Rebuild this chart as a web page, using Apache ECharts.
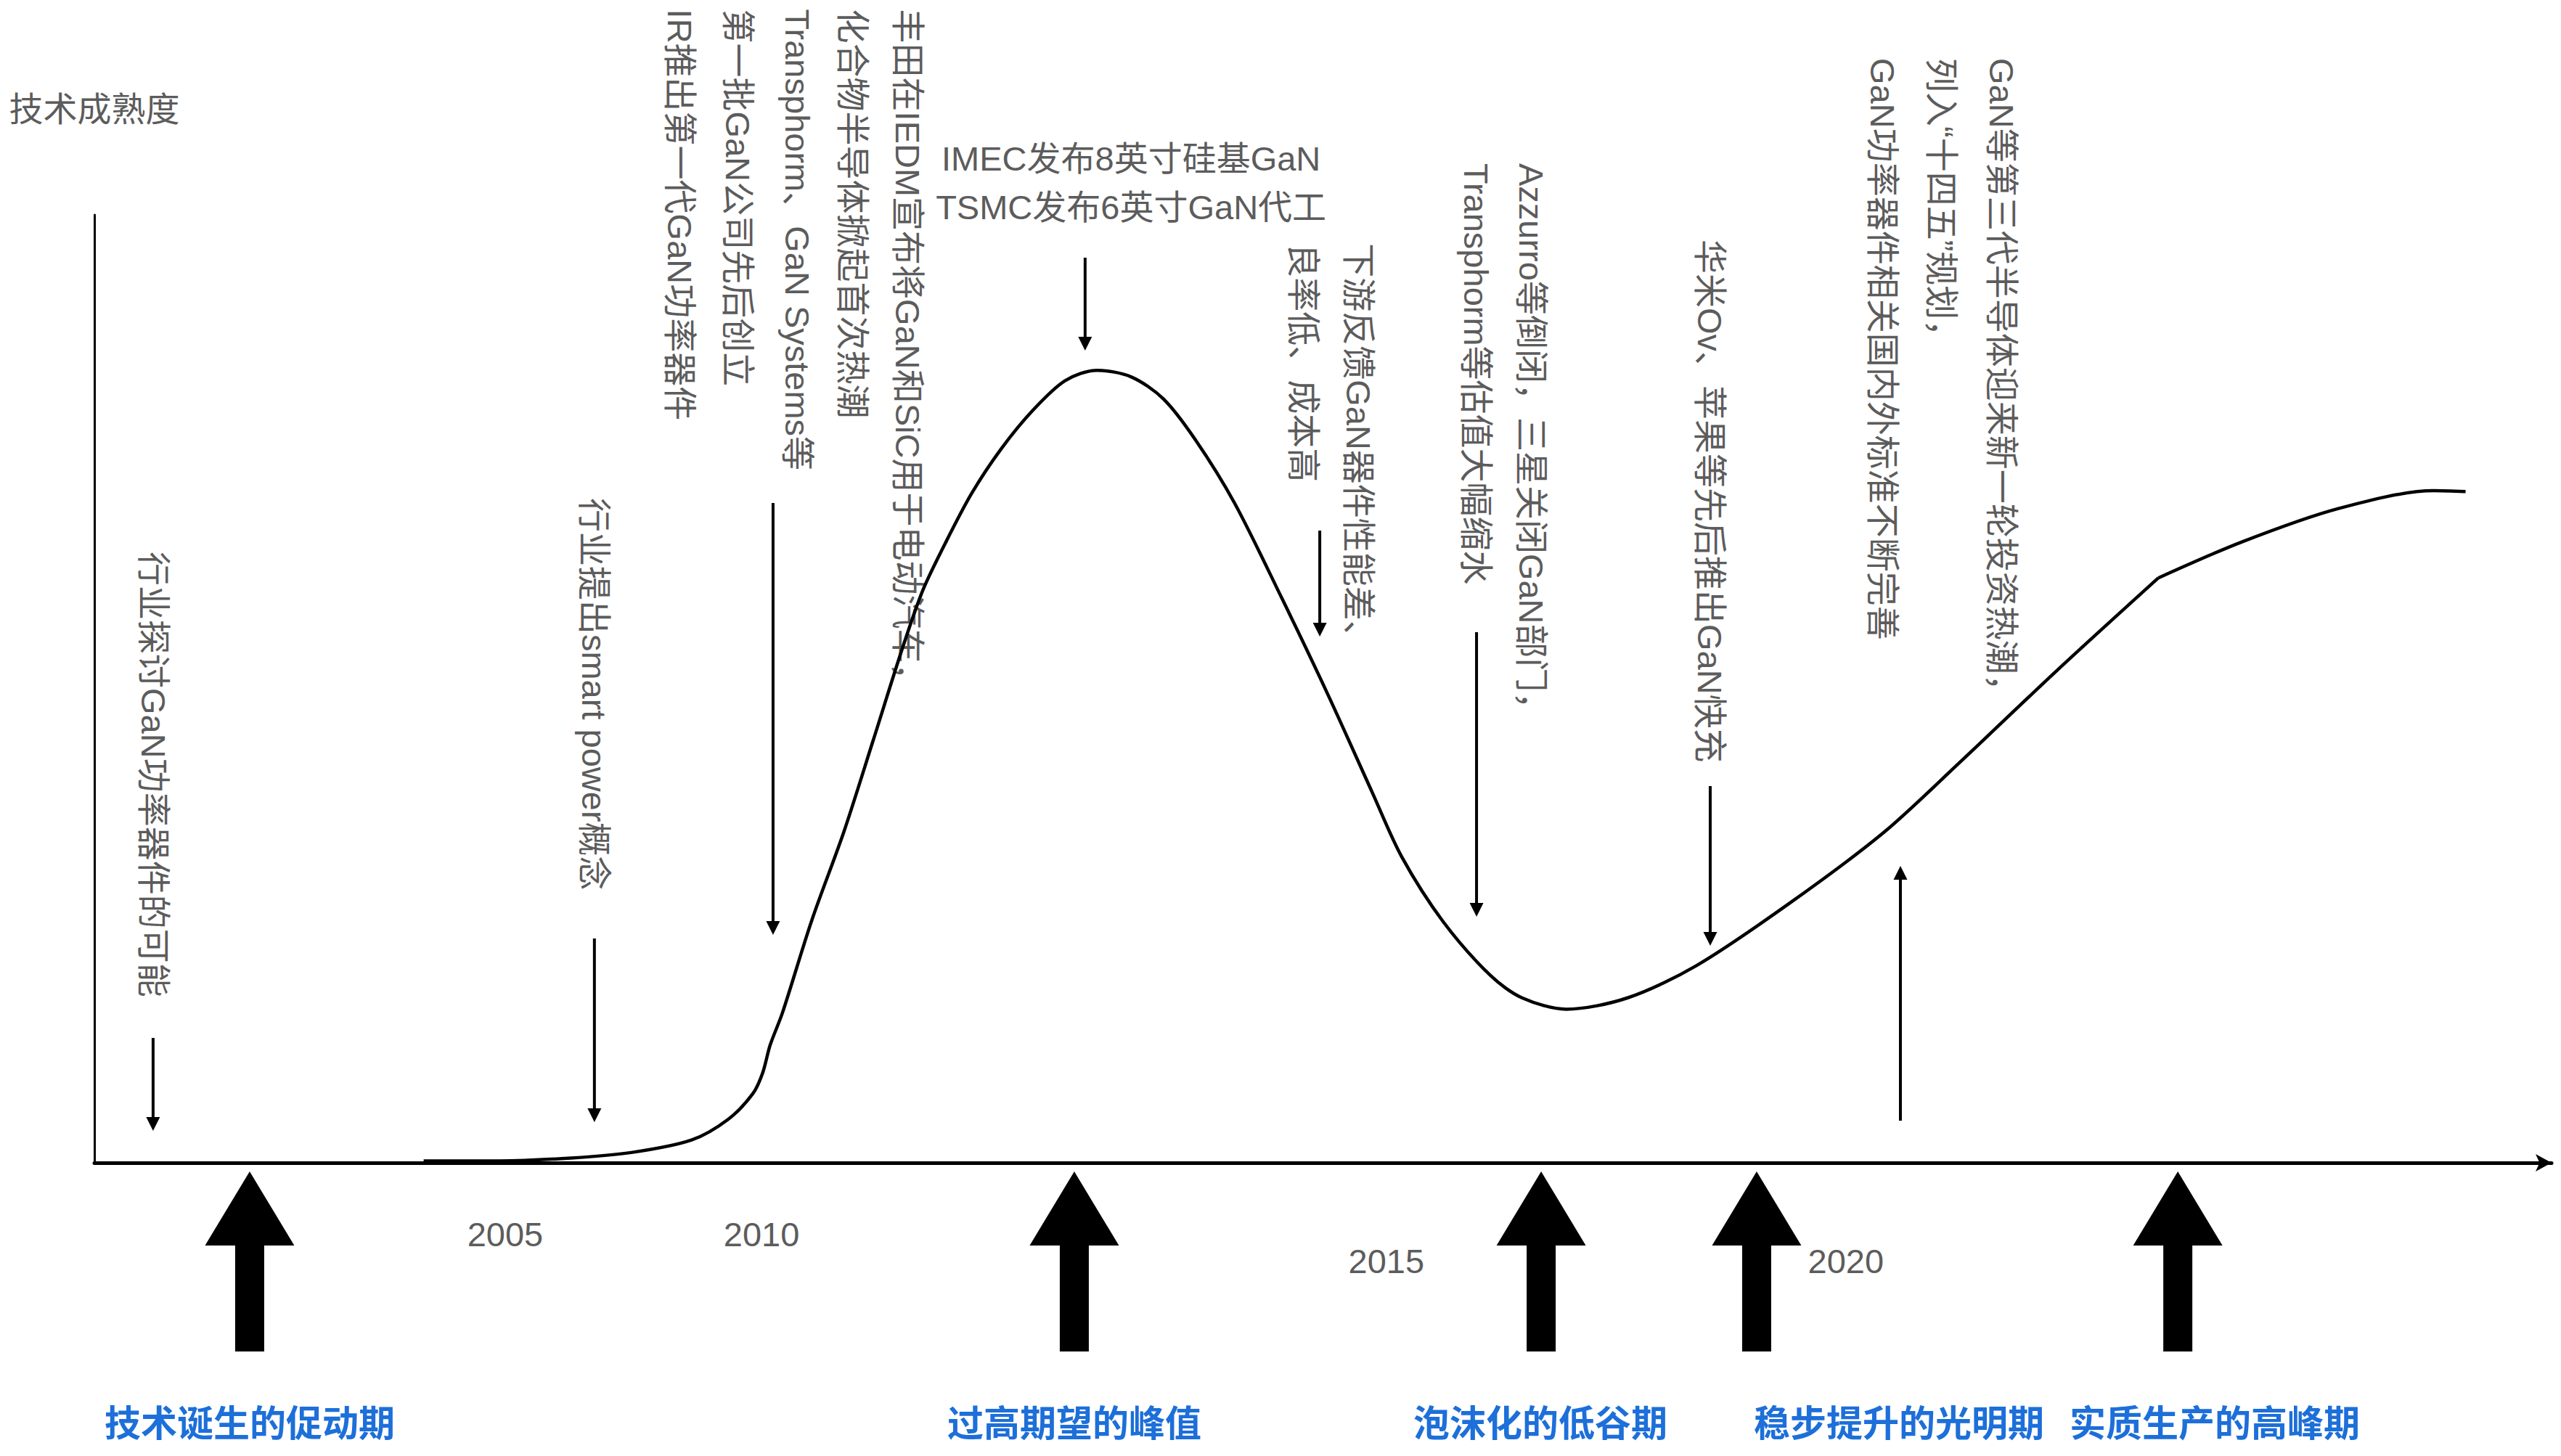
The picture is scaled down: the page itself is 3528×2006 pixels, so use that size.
<!DOCTYPE html>
<html><head><meta charset="utf-8">
<script src="https://cdn.jsdelivr.net/npm/echarts@6/dist/echarts.min.js"></script>
<style>html,body{margin:0;padding:0;background:#fff}#c{width:3528px;height:2006px}</style>
</head><body><div id="c"></div>
<script>
// ---- hype curve (x: time progress 0-100, y: maturity 0-100) ----
// main curve: trigger -> peak -> trough -> slope of enlightenment
const curveX = [13.4, 16.5, 19.4, 21.9, 24.3, 25.8, 26.8, 27.2, 27.5, 28.0, 29.2, 30.5, 31.7, 32.9, 33.7, 34.6, 35.7, 36.9, 38.2, 39.5, 40.8, 42.2, 43.5, 44.8, 46.4, 48.3, 50.2, 52.0, 53.2, 54.9, 56.8, 58.1, 59.9, 62.4, 65.2, 69.0, 72.8, 75.9, 79.9, 84.0];
const curveY = [0.2, 0.2, 0.5, 1.1, 2.4, 4.6, 7.3, 9.5, 12.4, 15.8, 25.6, 34.9, 44.6, 54.4, 60.3, 65.2, 70.6, 75.3, 79.4, 82.5, 83.6, 82.9, 80.6, 76.3, 69.6, 59.7, 49.4, 39.1, 32.3, 25.4, 19.8, 17.4, 16.2, 17.4, 20.8, 27.4, 34.8, 42.2, 52.0, 61.7];
// plateau of productivity
const plateauX = [84.0, 87.4, 91.3, 95.2, 96.5];
const plateauY = [61.7, 65.5, 69.0, 70.9, 70.8];

// ---- vertical event notes ----
const noteTexts = [
  '行业探讨GaN功率器件的可能',
  '行业提出smart power概念',
  'IR推出第一代GaN功率器件',
  '第一批GaN公司先后创立',
  'Transphorm、GaN Systems等',
  '化合物半导体掀起首次热潮',
  '丰田在IEDM宣布将GaN和SiC用于电动汽车，',
  '良率低、成本高',
  '下游反馈GaN器件性能差、',
  'Transphorm等估值大幅缩水',
  'Azzurro等倒闭，三星关闭GaN部门，',
  '华米Ov、苹果等先后推出GaN快充',
  'GaN功率器件相关国内外标准不断完善',
  '列入“十四五”规划，',
  'GaN等第三代半导体迎来新一轮投资热潮，'
];
const noteX = [2.42, 20.33, 23.84, 26.20, 28.60, 30.87, 33.09, 49.19, 51.46, 56.22, 58.49, 65.76, 72.79, 75.18, 77.61];
const noteY = [64.47, 70.14, 121.7, 121.7, 121.7, 121.7, 121.7, 97.0, 97.0, 105.44, 105.44, 97.4, 116.54, 116.54, 116.54];

// ---- horizontal notes ----
const hNoteTexts = ['IMEC发布8英寸硅基GaN', 'TSMC发布6英寸GaN代工'];
const hNoteX = [42.19, 42.19];
const hNoteY = [105.97, 100.77];

// ---- pointer arrows (x, from y, to y) ----
const pointerX = [2.39, 20.35, 27.62, 40.32, 49.87, 56.25, 65.76, 73.50];
const pointerFrom = [13.17, 23.66, 69.6, 95.48, 66.69, 55.97, 39.74, 4.44];
const pointerTo = [3.37, 4.29, 24.04, 85.68, 55.51, 25.96, 22.89, 31.32];

// ---- year labels ----
const yearLabels = ['2005', '2010', '2015', '2020'];
const yearX = [16.72, 27.15, 52.58, 71.28];
const yearY = [-7.58, -7.58, -10.4, -10.4];

// ---- stages ----
const stageNames = ['技术诞生的促动期', '过高期望的峰值', '泡沫化的低谷期', '稳步提升的光明期', '实质生产的高峰期'];
const stageArrowX = [6.32, 39.88, 58.88, 67.65, 84.79];
const stageArrowTop = [-0.92, -0.92, -0.92, -0.92, -0.92];
const stageArrowBottom = [-19.91, -19.91, -19.91, -19.91, -19.91];
const stageLabelX = [6.32, 39.88, 58.85, 73.44, 86.29];
const stageLabelY = [-27.18, -27.18, -27.18, -27.18, -27.18];

const GRAY = '#5c5c5c';
const BLUE = '#1d6fd9';
const FONT = '"Liberation Sans", "Noto Sans CJK SC", sans-serif';

function textRenderer(texts, opts) {
  return function (params, api) {
    const p = api.coord([api.value(0), api.value(1)]);
    return {
      type: 'text',
      x: p[0], y: p[1],
      rotation: opts.rotate ? -Math.PI / 2 : 0,
      style: {
        text: texts[params.dataIndex],
        fill: opts.color, textFill: opts.color,
        font: opts.font, textFont: opts.font,
        align: opts.align, textAlign: opts.align,
        verticalAlign: 'middle', textVerticalAlign: 'middle'
      }
    };
  };
}

const curveStyle = { color: '#000', width: 4.5 };

const chart = echarts.init(document.getElementById('c'), null, { renderer: 'svg', width: 3528, height: 2006 });
chart.setOption({
  animation: false,
  backgroundColor: '#ffffff',
  grid: { left: 130, right: 13, top: 296, bottom: 404, containLabel: false, outerBoundsMode: 'none' },
  xAxis: {
    type: 'value', min: 0, max: 100,
    axisLine: { show: true, symbol: ['none', 'arrow'], symbolSize: [18, 22], lineStyle: { color: '#000', width: 5 } },
    axisTick: { show: false }, axisLabel: { show: false }, splitLine: { show: false }
  },
  yAxis: {
    type: 'value', min: 0, max: 100,
    name: '技术成熟度', nameLocation: 'end', nameGap: 146,
    nameTextStyle: { color: GRAY, fontSize: 47, fontFamily: FONT, align: 'center', verticalAlign: 'middle' },
    axisLine: { show: true, lineStyle: { color: '#000', width: 3 } },
    axisTick: { show: false }, axisLabel: { show: false }, splitLine: { show: false }
  },
  series: [
    {
      type: 'line', smooth: 0.3, symbol: 'none', clip: false,
      data: curveX.map((x, i) => [x, curveY[i]]),
      lineStyle: curveStyle
    },
    {
      type: 'line', smooth: 0.3, symbol: 'none', clip: false,
      data: plateauX.map((x, i) => [x, plateauY[i]]),
      lineStyle: curveStyle
    },
    {
      type: 'custom', clip: false,
      encode: { x: 0, y: [1, 2] },
      data: pointerX.map((x, i) => [x, pointerFrom[i], pointerTo[i]]),
      renderItem: function (params, api) {
        const a = api.coord([api.value(0), api.value(1)]);
        const b = api.coord([api.value(0), api.value(2)]);
        const dx = b[0] - a[0], dy = b[1] - a[1];
        const len = Math.hypot(dx, dy), ux = dx / len, uy = dy / len;
        const L = 19, W = 9.5;
        const bx = b[0] - ux * L, by = b[1] - uy * L;
        return {
          type: 'group', children: [
            { type: 'line', shape: { x1: a[0], y1: a[1], x2: bx, y2: by }, style: { stroke: '#000', lineWidth: 4 } },
            { type: 'polygon', shape: { points: [[b[0], b[1]], [bx - uy * W, by + ux * W], [bx + uy * W, by - ux * W]] }, style: { fill: '#000' } }
          ]
        };
      }
    },
    {
      type: 'custom', clip: false,
      encode: { x: 0, y: [1, 2] },
      data: stageArrowX.map((x, i) => [x, stageArrowTop[i], stageArrowBottom[i]]),
      renderItem: function (params, api) {
        const t = api.coord([api.value(0), api.value(1)]);
        const bt = api.coord([api.value(0), api.value(2)]);
        const H = 102, HW = 61.5, SW = 20;
        const cx = t[0], ty = t[1], hy = ty + H, by = bt[1];
        return {
          type: 'polygon',
          shape: { points: [[cx, ty], [cx + HW, hy], [cx + SW, hy], [cx + SW, by], [cx - SW, by], [cx - SW, hy], [cx - HW, hy]] },
          style: { fill: '#000' }
        };
      }
    },
    {
      type: 'custom', clip: false,
      data: noteX.map((x, i) => [x, noteY[i]]),
      renderItem: textRenderer(noteTexts, { rotate: true, color: GRAY, font: '47px ' + FONT, align: 'left' })
    },
    {
      type: 'custom', clip: false,
      data: hNoteX.map((x, i) => [x, hNoteY[i]]),
      renderItem: textRenderer(hNoteTexts, { rotate: false, color: GRAY, font: '47px ' + FONT, align: 'center' })
    },
    {
      type: 'custom', clip: false,
      data: yearX.map((x, i) => [x, yearY[i]]),
      renderItem: textRenderer(yearLabels, { rotate: false, color: GRAY, font: '47px ' + FONT, align: 'center' })
    },
    {
      type: 'custom', clip: false,
      data: stageLabelX.map((x, i) => [x, stageLabelY[i]]),
      renderItem: textRenderer(stageNames, { rotate: false, color: BLUE, font: 'bold 50px "Noto Sans CJK SC", sans-serif', align: 'center' })
    }
  ]
});
</script>
</body></html>
